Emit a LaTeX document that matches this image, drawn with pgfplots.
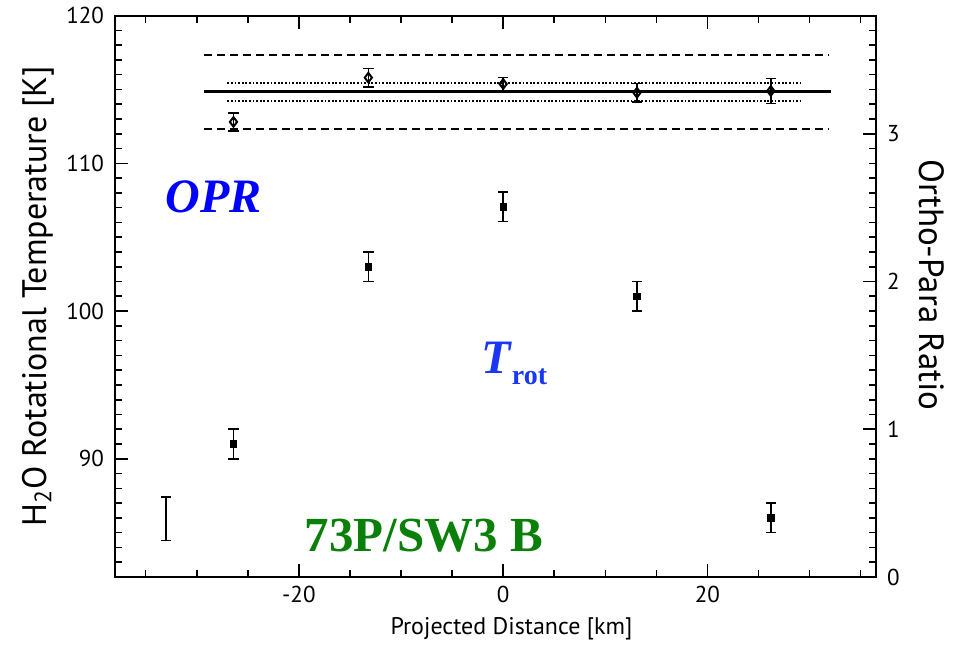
\documentclass[border=0pt]{standalone}
\usepackage{pgfplots}
\pgfplotsset{compat=1.18}
\usepackage{fontspec}
\setmainfont{PT Sans}
\newfontfamily\serifb{Liberation Serif}
\definecolor{oprblue}{RGB}{0,0,255}
\definecolor{trotblue}{RGB}{25,55,245}
\definecolor{swgreen}{RGB}{10,128,10}
\begin{document}
\begin{tikzpicture}
\pgfplotsset{
  common/.style={
    width=380.5pt, height=280.7pt, scale only axis,
    xmin=-38, xmax=36.5,
    axis line style={line width=1pt},
    /pgf/number format/assume math mode=true,
    tick style={line width=0.8pt, black},
    major tick length=6.5pt, minor tick length=3.5pt,
    tick label style={font=\fontsize{11.5}{12}\selectfont},
    tick align=inside,
    error bars/error bar style={line width=0.8pt},
    error bars/error mark options={line width=0.8pt, mark size=2.6pt, rotate=90},
  }
}
\begin{axis}[common, name=main,
  ymin=82, ymax=120,
  ytick={90,100,110,120}, minor ytick={83,84,...,119},
  ytick pos=left,
  xtick={-20,0,20}, minor xtick={-35,-30,-25,-15,-10,-5,5,10,15,25,30,35},
  xtick pos=both,
  xlabel={Projected Distance [km]},
  xlabel style={font=\fontsize{12}{14}\selectfont, at={(axis description cs:0.5,0)}, anchor=center, yshift=-26pt, xshift=8pt},
  ylabel={H\textsubscript{2}O Rotational Temperature [K]},
  ylabel style={font=\fontsize{17}{18}\selectfont, at={(axis description cs:0,0.5)}, anchor=center, yshift=38.5pt},
  yticklabel style={xshift=-2pt},
  xticklabel style={yshift=-1pt},
  clip=false,
]
% T_rot data
\addplot[only marks, mark=square*, mark size=1.6pt, black,
  error bars/.cd, y dir=both, y explicit]
  coordinates {
  (-26.4,91.0) +- (0,1.0)
  (-13.2,103.0) +- (0,1.0)
  (0,107.05) +- (0,1.0)
  (13.1,101.0) +- (0,1.0)
  (26.2,86.0) +- (0,1.0)
  };
% representative error bar
\addplot[draw=none, mark=none, black,
  error bars/.cd, y dir=both, y explicit]
  coordinates {(-33,85.95) +- (0,1.47)};
\node[anchor=base west, text=oprblue, inner sep=0pt, font=\serifb\bfseries\itshape\fontsize{24}{24}\selectfont] at (axis cs:-33.1,106.7) {OPR};
\node[anchor=base west, text=trotblue, inner sep=0pt, font=\serifb\bfseries\fontsize{24}{24}\selectfont] at (axis cs:-2.2,95.8) {\textit{T}\raisebox{-5.5pt}{\fontsize{14}{14}\selectfont rot}};
\node[anchor=base west, text=swgreen, inner sep=0pt, font=\serifb\bfseries\fontsize{24.5}{25}\selectfont] at (axis cs:-19.45,83.75) {73P/SW3 B};
\end{axis}
\begin{axis}[common,
  ymin=0, ymax=3.8,
  axis x line=none,
  axis y line*=right,
  ytick={0,1,2,3}, minor ytick={0.1,0.2,...,3.75},
  ylabel={Ortho-Para Ratio},
  ylabel style={font=\fontsize{17.5}{19}\selectfont, at={(axis description cs:1,0.52)}, anchor=center, rotate=180, yshift=28pt},
  yticklabel style={xshift=2pt},
]
% mean and limits
\addplot[black, line width=1.5pt] coordinates {(-29.3,3.285) (32.1,3.285)};
\addplot[black, line width=1pt, dash pattern=on 4pt off 2.5pt] coordinates {(-29.3,3.533) (31.8,3.533)};
\addplot[black, line width=1pt, dash pattern=on 4pt off 2.5pt] coordinates {(-29.3,3.03) (31.8,3.03)};
\addplot[black, line width=1pt, dash pattern=on 0.9pt off 0.9pt] coordinates {(-27,3.346) (29.2,3.346)};
\addplot[black, line width=1pt, dash pattern=on 0.9pt off 0.9pt] coordinates {(-27,3.224) (29.2,3.224)};
% OPR data
\addplot[only marks, mark=diamond, mark size=2.4pt, black, mark options={line width=1pt, fill=white},
  error bars/.cd, y dir=both, y explicit]
  coordinates {
  (-26.4,3.08) +- (0,0.06)
  (-13.2,3.38) +- (0,0.062)
  (0,3.337) +- (0,0.044)
  (13.1,3.278) +- (0,0.063)
  (26.2,3.29) +- (0,0.085)
  };
\end{axis}
\pgfresetboundingbox
\path[use as bounding box] ([xshift=-57.5pt,yshift=-34pt]main.south west) rectangle ([xshift=42pt,yshift=7.8pt]main.north east);
\end{tikzpicture}
\end{document}
